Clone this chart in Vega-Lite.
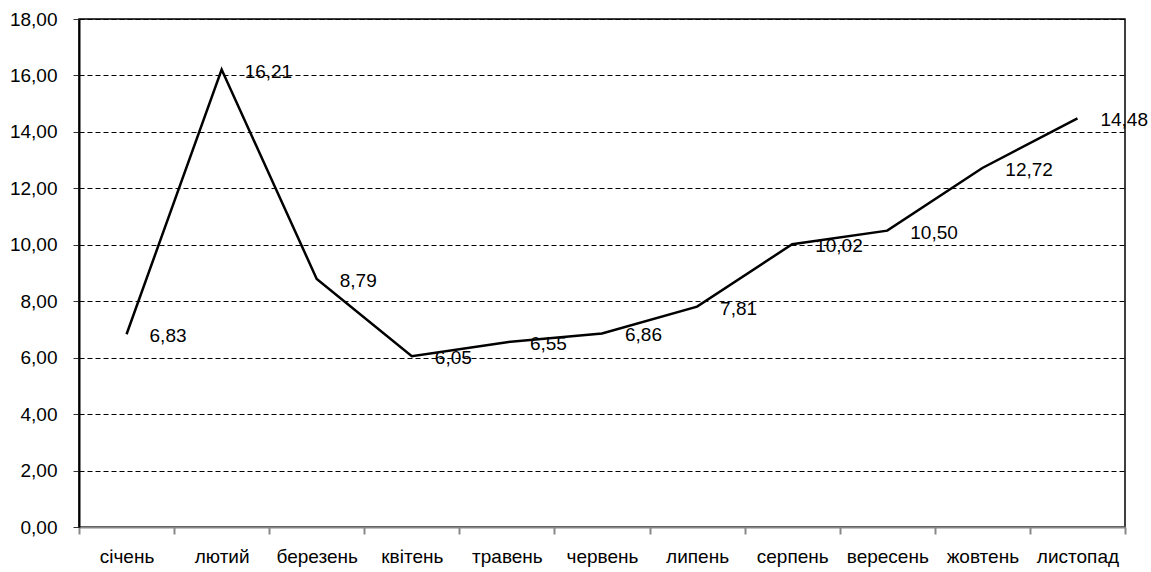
{
  "$schema": "https://vega.github.io/schema/vega-lite/v6.json",
  "autosize": {"type": "none"},
  "padding": {"left": 79, "top": 19, "right": 26, "bottom": 45},
  "width": 1046,
  "height": 508,
  "background": "white",
  "config": {
    "locale": {"number": {"decimal": ",", "thousands": " ", "grouping": [3], "currency": ["", ""]}},
    "view": {"stroke": "#000", "strokeWidth": 1.5},
    "font": "Liberation Sans"
  },
  "data": {
    "values": [
      {"month": "січень", "v": 6.83},
      {"month": "лютий", "v": 16.21},
      {"month": "березень", "v": 8.79},
      {"month": "квітень", "v": 6.05},
      {"month": "травень", "v": 6.55},
      {"month": "червень", "v": 6.86},
      {"month": "липень", "v": 7.81},
      {"month": "серпень", "v": 10.02},
      {"month": "вересень", "v": 10.50},
      {"month": "жовтень", "v": 12.72},
      {"month": "листопад", "v": 14.48}
    ]
  },
  "encoding": {
    "x": {
      "field": "month", "type": "ordinal", "sort": null,
      "scale": {"paddingInner": 0, "paddingOuter": 0},
      "axis": {
        "title": null, "labelAngle": 0, "tickBand": "extent",
        "domainColor": "#888", "domainWidth": 2, "tickColor": "#888", "tickWidth": 2, "tickSize": 7,
        "labelFont": "Liberation Sans", "labelFontSize": 19, "labelColor": "#000", "labelPadding": 13,
        "grid": false
      }
    },
    "y": {
      "field": "v", "type": "quantitative",
      "scale": {"domain": [0, 18], "nice": false, "zero": true},
      "axis": {
        "title": null, "values": [0, 2, 4, 6, 8, 10, 12, 14, 16, 18], "format": ".2f",
        "domainColor": "#000", "domainWidth": 2, "tickColor": "#333", "tickSize": 6,
        "labelFont": "Liberation Sans", "labelFontSize": 19, "labelColor": "#000", "labelPadding": 16,
        "grid": true, "gridColor": "#000", "gridDash": [5, 3], "gridWidth": 1, "gridOpacity": 1
      }
    }
  },
  "layer": [
    {"mark": {"type": "line", "color": "#000", "strokeWidth": 2.5}},
    {
      "mark": {"type": "text", "align": "left", "baseline": "middle", "dx": 23, "dy": 2, "font": "Liberation Sans", "fontSize": 19, "color": "#000"},
      "encoding": {"text": {"field": "v", "type": "quantitative", "format": ".2f"}}
    }
  ]
}
